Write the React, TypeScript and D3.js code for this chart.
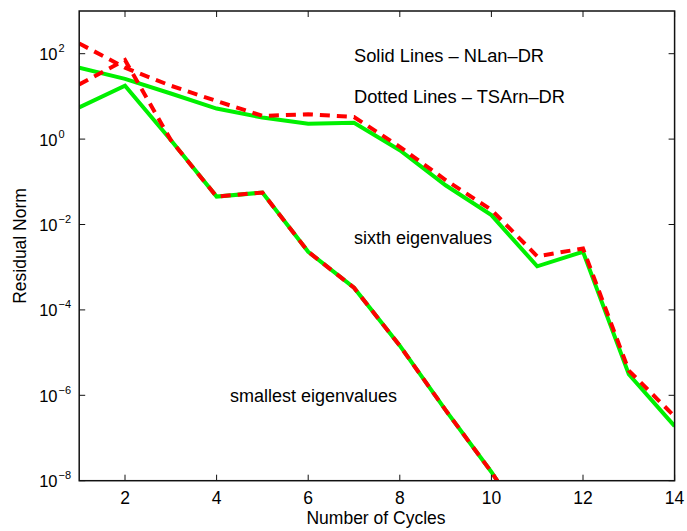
import React from "react";
import * as d3 from "d3";

// Number of cycles (x)
const cycles = [1, 2, 3, 4, 5, 6, 7, 8, 9, 10, 11, 12, 13, 14];

// sixth eigenvalues
const sixthNLan = [46.8, 25.7, 11.7, 5.2, 3.2, 2.3, 2.4, 0.55, 0.083, 0.0166, 1.05e-3, 2.3e-3, 3.1e-6, 1.9e-7];
const sixthTSArn = [174, 47, 17.8, 7.8, 3.5, 3.8, 3.3, 0.66, 0.11, 0.022, 1.8e-3, 2.75e-3, 3.8e-6, 3.2e-7];

// smallest eigenvalues
const smallNLan = [5.5, 17.8, 0.95, 0.045, 0.056, 2.3e-3, 3.3e-4, 1.45e-5, 4.5e-7, 1.6e-8, 4e-10];
const smallTSArn = [19, 71, 0.95, 0.045, 0.056, 2.3e-3, 3.3e-4, 1.45e-5, 4.5e-7, 1.6e-8, 4e-10];

const xTicks = [2, 4, 6, 8, 10, 12, 14];
const yTickExps = [2, 0, -2, -4, -6, -8];

const W = 687;
const H = 531;
const L = 79.2;
const R = 674.6;
const T = 11;
const B = 480.7;

const FONT = "'Liberation Sans', Arial, Helvetica, sans-serif";

export default function App() {
  const x = d3.scaleLinear().domain([1, 14]).range([L, R]);
  const y = d3.scaleLog().domain([1e-8, 1e3]).range([B, T]);

  const line = d3
    .line<[number, number]>()
    .x((d) => x(d[0]))
    .y((d) => y(d[1]));

  const pts = (vals: number[]) => vals.map((v, i) => [cycles[i], v] as [number, number]);

  const green = "#00f000";
  const red = "#ff0000";

  return (
    <div style={{ position: "fixed", left: 0, top: 0 }}>
      <svg width={W} height={H} style={{ display: "block", background: "#fff" }} fontFamily={FONT}>
        <defs>
          <clipPath id="plotclip">
            <rect x={L} y={T} width={R - L} height={B - T} />
          </clipPath>
        </defs>
        <g clipPath="url(#plotclip)" fill="none" strokeLinejoin="miter">
          <path d={line(pts(sixthNLan)) || ""} stroke={green} strokeWidth={4} />
          <path d={line(pts(smallNLan)) || ""} stroke={green} strokeWidth={4} />
          <path d={line(pts(sixthTSArn)) || ""} stroke={red} strokeWidth={4} strokeDasharray="10,7" />
          <path d={line(pts(smallTSArn)) || ""} stroke={red} strokeWidth={4} strokeDasharray="10,7" />
        </g>
        {/* axes box */}
        <rect x={L} y={T} width={R - L} height={B - T} fill="none" stroke="#111" strokeWidth={1.5} />
        {/* x ticks */}
        {xTicks.map((t) => (
          <g key={"x" + t}>
            <line x1={x(t)} x2={x(t)} y1={B} y2={B - 6} stroke="#111" strokeWidth={1} />
            <line x1={x(t)} x2={x(t)} y1={T} y2={T + 6} stroke="#111" strokeWidth={1} />
            <text x={x(t)} y={503.5} textAnchor="middle" fontSize={17.5} fill="#000">
              {t}
            </text>
          </g>
        ))}
        {/* y ticks */}
        {yTickExps.map((e) => {
          const yy = y(Math.pow(10, e));
          return (
            <g key={"y" + e}>
              <line x1={L} x2={L + 6} y1={yy} y2={yy} stroke="#111" strokeWidth={1} />
              <line x1={R} x2={R - 6} y1={yy} y2={yy} stroke="#111" strokeWidth={1} />
              <text x={57.5} y={yy + 6.5} textAnchor="end" fontSize={16.5} fill="#000">
                10
              </text>
              <text x={58.5} y={yy - 1.5} textAnchor="start" fontSize={11} fill="#000">
                {e < 0 ? "\u2212" + Math.abs(e) : String(e)}
              </text>
            </g>
          );
        })}
        {/* axis labels */}
        <text x={376} y={524.3} textAnchor="middle" fontSize={17.5} fill="#000">
          Number of Cycles
        </text>
        <text
          transform={`translate(25.7,246) rotate(-90)`}
          textAnchor="middle"
          fontSize={17.5}
          fill="#000"
        >
          Residual Norm
        </text>
        {/* annotations */}
        <text x={354} y={61.7} fontSize={18.3} fill="#000">
          Solid Lines – NLan–DR
        </text>
        <text x={354} y={102.7} fontSize={18.3} fill="#000">
          Dotted Lines – TSArn–DR
        </text>
        <text x={354} y={244} fontSize={18} fill="#000">
          sixth eigenvalues
        </text>
        <text x={230} y={401.7} fontSize={18} fill="#000">
          smallest eigenvalues
        </text>
      </svg>
    </div>
  );
}
